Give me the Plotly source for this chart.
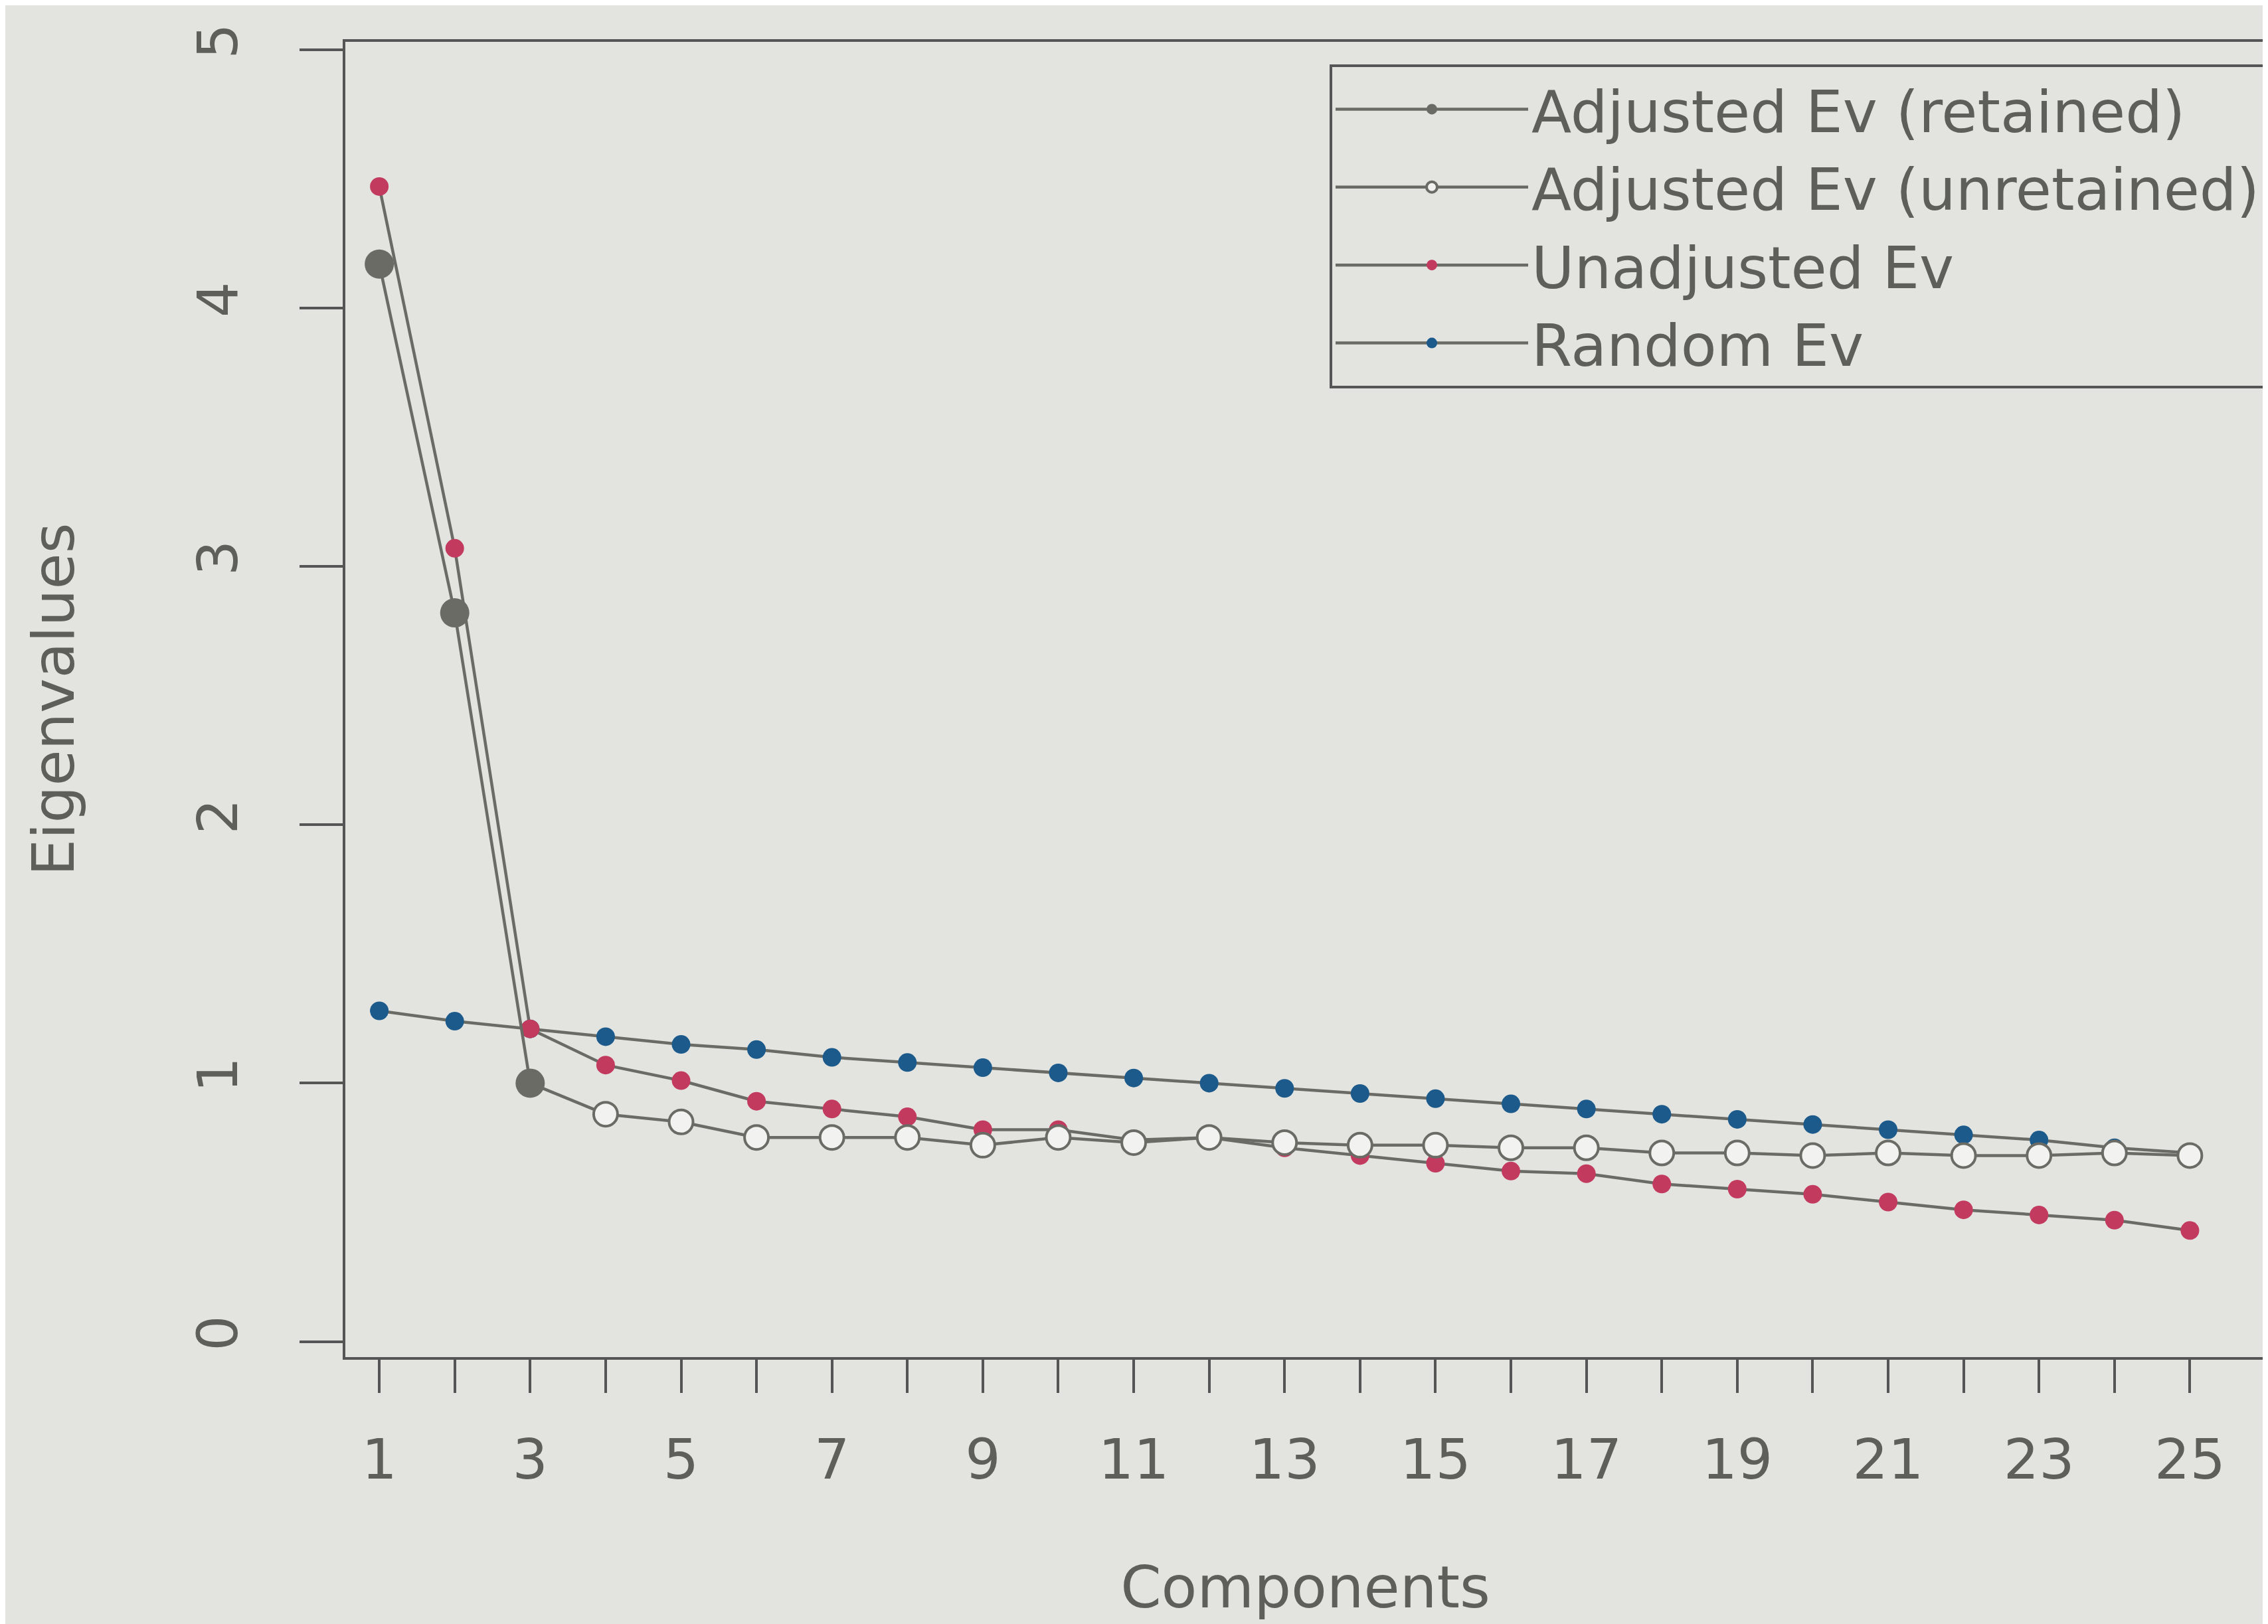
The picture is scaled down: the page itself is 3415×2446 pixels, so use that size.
import plotly.graph_objects as go

components = list(range(1, 26))
random_ev = [1.28, 1.24, 1.21, 1.18, 1.15, 1.13, 1.10, 1.08, 1.06, 1.04, 1.02, 1.00,
             0.98, 0.96, 0.94, 0.92, 0.90, 0.88, 0.86, 0.84, 0.82, 0.80, 0.78, 0.75, 0.73]
unadjusted_ev = [4.47, 3.07, 1.21, 1.07, 1.01, 0.93, 0.90, 0.87, 0.82, 0.82, 0.78, 0.79,
                 0.75, 0.72, 0.69, 0.66, 0.65, 0.61, 0.59, 0.57, 0.54, 0.51, 0.49, 0.47, 0.43]
adjusted_ev = [4.17, 2.82, 1.00, 0.88, 0.85, 0.79, 0.79, 0.79, 0.76, 0.79, 0.77, 0.79,
               0.77, 0.76, 0.76, 0.75, 0.75, 0.73, 0.73, 0.72, 0.73, 0.72, 0.72, 0.73, 0.72]
n_retained = 3
x_ticks = list(range(1, 26))
x_ticktext = [str(v) if v % 2 == 1 else "" for v in x_ticks]
y_ticks = [0, 1, 2, 3, 4, 5]

GRAY = "#6b6b66"
RED = "#c23a5e"
BLUE = "#1b5a8a"
TXT = "#5e5e5a"
BG = "#e3e3e0"
FONT = "DejaVu Sans, Liberation Sans, sans-serif"

fig = go.Figure()

# Random Ev
fig.add_trace(go.Scatter(x=components, y=random_ev, mode="lines+markers", name="Random Ev",
                         line=dict(color=GRAY, width=4.5),
                         marker=dict(color=BLUE, size=28, line=dict(width=0))))
# Unadjusted Ev
fig.add_trace(go.Scatter(x=components, y=unadjusted_ev, mode="lines+markers", name="Unadjusted Ev",
                         line=dict(color=GRAY, width=4.5),
                         marker=dict(color=RED, size=28, line=dict(width=0))))
# connector between retained and unretained
fig.add_trace(go.Scatter(x=components[n_retained - 1:n_retained + 1],
                         y=adjusted_ev[n_retained - 1:n_retained + 1], mode="lines",
                         line=dict(color=GRAY, width=4.5), showlegend=False, hoverinfo="skip"))
# Adjusted unretained
fig.add_trace(go.Scatter(x=components[n_retained:], y=adjusted_ev[n_retained:], mode="lines+markers",
                         name="Adjusted Ev (unretained)",
                         line=dict(color=GRAY, width=4.5),
                         marker=dict(color="#f2f2f0", size=36, line=dict(color=GRAY, width=4))))
# Adjusted retained
fig.add_trace(go.Scatter(x=components[:n_retained], y=adjusted_ev[:n_retained], mode="lines+markers",
                         name="Adjusted Ev (retained)",
                         line=dict(color=GRAY, width=4.5),
                         marker=dict(color=GRAY, size=44, line=dict(width=0))))

fig.update_layout(
    width=3415, height=2446,
    paper_bgcolor=BG, plot_bgcolor=BG,
    margin=dict(l=512, r=8, t=55, b=410),
    font=dict(family=FONT, color=TXT, size=84),
    legend=dict(x=1, y=0.983, xanchor="right", yanchor="top", traceorder="reversed",
                bgcolor=BG, bordercolor="#555", borderwidth=4,
                font=dict(size=88, color=TXT, family=FONT), itemwidth=290,
                tracegroupgap=0),
    xaxis=dict(range=[0.55, 26.0], tickvals=x_ticks, ticktext=x_ticktext,
               ticks="outside", ticklen=50, tickwidth=4, tickcolor="#555",
               showline=True, linecolor="#555", linewidth=4, mirror=True,
               showgrid=False, zeroline=False, ticklabelstandoff=28,
               tickfont=dict(size=84, color=TXT),
               title=dict(text="Components", font=dict(size=88, color=TXT), standoff=115)),
    yaxis=dict(range=[-0.06, 5.03], tickvals=y_ticks, tickangle=-90,
               ticks="outside", ticklen=65, tickwidth=4, tickcolor="#555",
               showline=True, linecolor="#555", linewidth=4, mirror=True,
               showgrid=False, zeroline=False, ticklabelstandoff=60,
               tickfont=dict(size=84, color=TXT),
               title=dict(text="Eigenvalues", font=dict(size=88, color=TXT), standoff=140)),
)

fig.write_html("out.html")
